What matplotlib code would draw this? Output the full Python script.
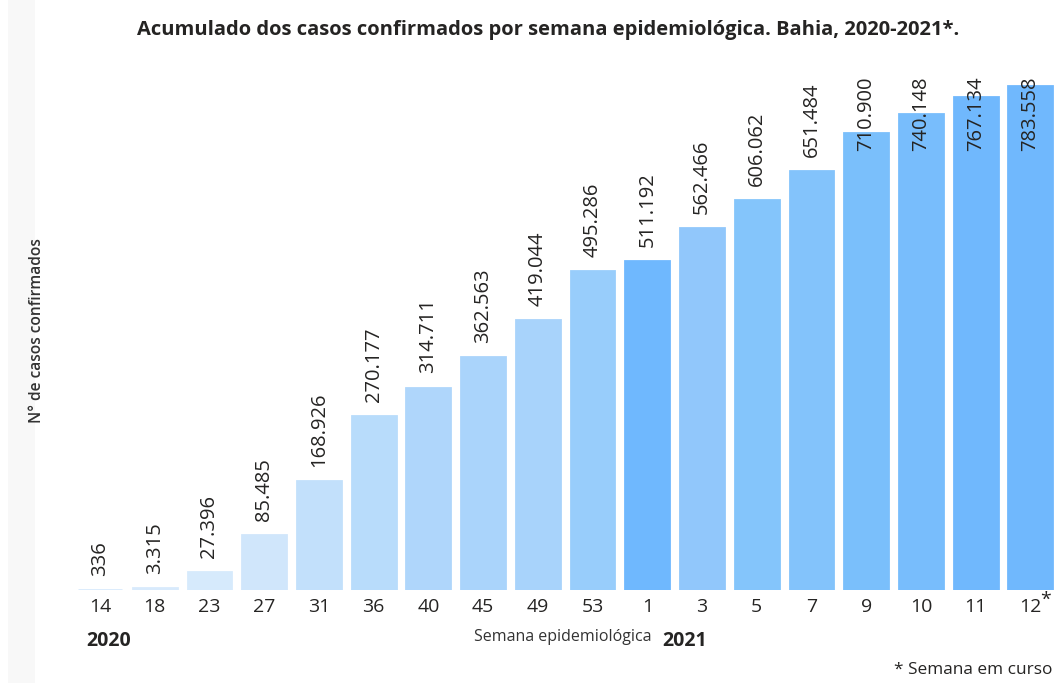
import matplotlib.pyplot as plt
from matplotlib.patches import Rectangle

plt.rcParams['font.family'] = ['Open Sans', 'DejaVu Sans']

# Dados: casos acumulados por semana epidemiológica
semanas = ['14', '18', '23', '27', '31', '36', '40', '45', '49', '53',
           '1', '3', '5', '7', '9', '10', '11', '12']
casos = [336, 3315, 27396, 85485, 168926, 270177, 314711, 362563, 419044,
         495286, 511192, 562466, 606062, 651484, 710900, 740148, 767134, 783558]
rotulos = ['336', '3.315', '27.396', '85.485', '168.926', '270.177', '314.711',
           '362.563', '419.044', '495.286', '511.192', '562.466', '606.062',
           '651.484', '710.900', '740.148', '767.134', '783.558']
cores = ['#d8eafc', '#d8eafc', '#d6eafc', '#d0e6fb', '#c2e0fb', '#b8dcfb',
         '#afd6fb', '#aad4fb', '#a8d3fb', '#98cdfb', '#6fb8fe', '#91c7fb',
         '#84c5fb', '#83c3fb', '#7abffb', '#78bdfc', '#70b8fd', '#70b8fd']

fig = plt.figure(figsize=(10.55, 6.83), dpi=100)
fig.patches.append(Rectangle((8 / 1055, 0), 27 / 1055, 1, transform=fig.transFigure,
                             facecolor='#f8f8f8', edgecolor='none', zorder=-1))

ax = fig.add_axes([72.6 / 1055, 93 / 683, (1055 - 72.6) / 1055, 515 / 683])
x = list(range(len(semanas)))
ax.bar(x, casos, width=0.8, color=cores, edgecolor=cores, linewidth=2)
ymax = 800700
ax.set_ylim(0, ymax)
ax.set_xlim(-0.5, 17.45)

# rótulos de valor (rotacionados), limitados ao topo da área
comp = 112000
for xi, v, r in zip(x, casos, rotulos):
    base = v + 22000
    if base + comp > ymax:
        ax.text(xi, ymax - 2000, r, rotation=90, ha='center', va='top',
                fontsize=14.5, color='#252423')
    else:
        ax.text(xi, base, r, rotation=90, ha='center', va='bottom',
                fontsize=14.5, color='#252423')

ax.set_xticks(x)
ax.set_xticklabels(semanas, fontsize=14, color='#252423')
ax.tick_params(axis='x', length=0, pad=6)
ax.set_yticks([])
for s in ax.spines.values():
    s.set_visible(False)

fig.text(1046 / 1055, 1 - 600 / 683, '*', fontsize=14, color='#252423',
         ha='center', va='center')

fig.text(548 / 1055, 1 - 30 / 683,
         'Acumulado dos casos confirmados por semana epidemiológica. Bahia, 2020-2021*.',
         fontsize=14.5, fontweight='bold', color='#252423', ha='center', va='center')
fig.text(37 / 1055, 1 - 331 / 683, 'N° de casos confirmados', rotation=90,
         fontsize=11.2, fontweight='semibold', color='#333333', ha='center', va='center')
fig.text(109 / 1055, 1 - 641 / 683, '2020', fontsize=14, fontweight='bold',
         color='#252423', ha='center', va='center')
fig.text(685 / 1055, 1 - 641 / 683, '2021', fontsize=14, fontweight='bold',
         color='#252423', ha='center', va='center')
fig.text(563 / 1055, 1 - 637 / 683, 'Semana epidemiológica', fontsize=11.5,
         color='#333333', ha='center', va='center')
fig.text(1052 / 1055, 1 - 670 / 683, '* Semana em curso', fontsize=12.4,
         color='#252423', ha='right', va='center')

plt.savefig('out.png', dpi=100)
